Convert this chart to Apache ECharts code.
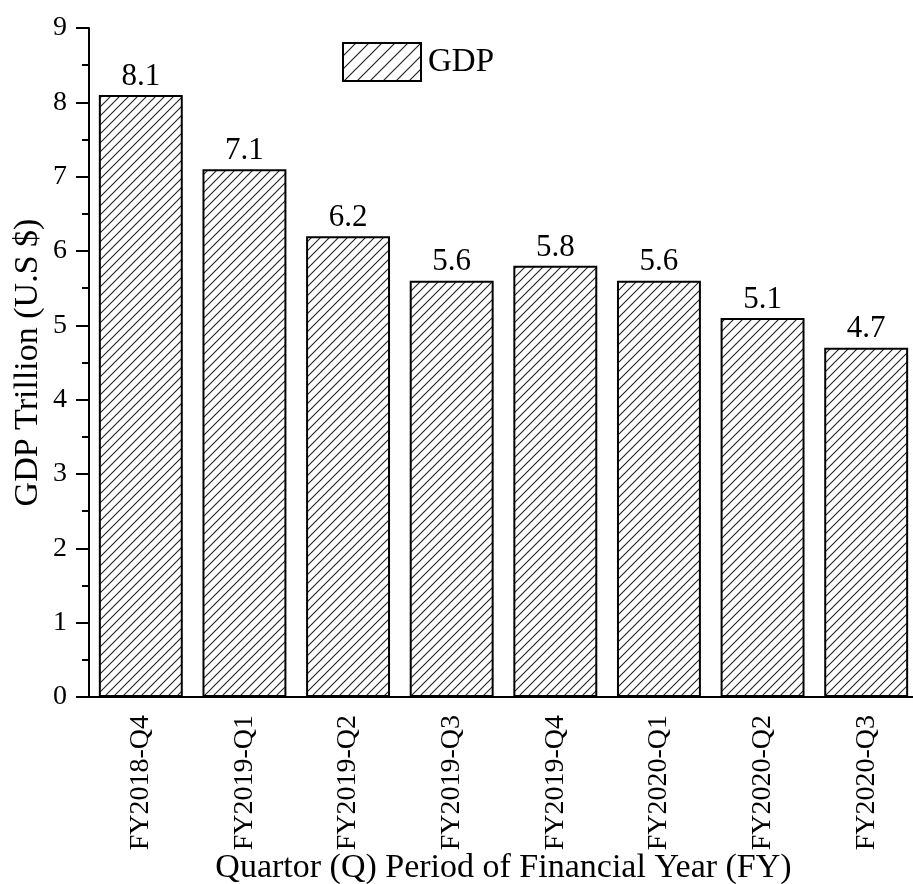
<!DOCTYPE html>
<html>
<head>
<meta charset="utf-8">
<script src="https://cdn.jsdelivr.net/npm/echarts@6/dist/echarts.min.js"></script>
<style>html,body{margin:0;padding:0;background:#fff}#c{width:913px;height:884px}</style>
</head>
<body>
<div id="c"></div>
<script>
const categories = ['FY2018-Q4','FY2019-Q1','FY2019-Q2','FY2019-Q3','FY2019-Q4','FY2020-Q1','FY2020-Q2','FY2020-Q3'];
const gdpValues = [8.1, 7.1, 6.2, 5.6, 5.8, 5.6, 5.1, 4.7];
const yTicks = [0,1,2,3,4,5,6,7,8,9];

function hatch(s, lw, col) {
  const c = document.createElement('canvas');
  c.width = s; c.height = s;
  const g = c.getContext('2d');
  g.fillStyle = '#fff'; g.fillRect(0,0,s,s);
  g.strokeStyle = col; g.lineWidth = lw;
  g.beginPath();
  g.moveTo(0, s); g.lineTo(s, 0);
  g.moveTo(-s, s); g.lineTo(s, -s);
  g.moveTo(0, 2*s); g.lineTo(2*s, 0);
  g.stroke();
  return c;
}
const font = '"Liberation Serif", "Times New Roman", serif';
const chart = echarts.init(document.getElementById('c'));
chart.setOption({
  animation: false,
  backgroundColor: '#fff',
  grid: { left: 89, top: 28, width: 829, height: 669, outerBoundsMode: 'none', containLabel: false },
  legend: {
    left: 342, top: 42, padding: 0, itemWidth: 78, itemHeight: 38, itemGap: 10,
    icon: 'rect',
    textStyle: { fontFamily: font, fontSize: 33, color: '#000', padding: [0, 0, 0, 2] },
    data: [{ name: 'GDP', itemStyle: { color: { image: hatch(13, 1.2, '#222'), repeat: 'repeat' }, borderColor: '#000', borderWidth: 2 } }]
  },
  xAxis: {
    type: 'category', data: categories,
    axisLine: { lineStyle: { color: '#000', width: 2 } },
    axisTick: { alignWithLabel: true, length: 9, lineStyle: { color: '#000', width: 2 } },
    axisLabel: { rotate: 90, margin: 18, fontFamily: font, fontSize: 28, color: '#000' },
    name: 'Quartor (Q) Period of Financial Year (FY)', nameLocation: 'middle', nameGap: 154, nameMoveOverlap: false,
    nameTextStyle: { fontFamily: font, fontSize: 34, color: '#000' }
  },
  yAxis: {
    type: 'value', min: yTicks[0], max: yTicks[yTicks.length-1], interval: 1,
    axisLine: { show: true, lineStyle: { color: '#000', width: 2 } },
    axisTick: { show: true, length: 13, lineStyle: { color: '#000', width: 2 } },
    minorTick: { show: true, splitNumber: 2, length: 7, lineStyle: { color: '#000', width: 2 } },
    splitLine: { show: false },
    axisLabel: { margin: 22, fontFamily: font, fontSize: 28, color: '#000' },
    name: 'GDP Trillion (U.S $)', nameLocation: 'middle', nameGap: 44, nameMoveOverlap: false,
    nameTextStyle: { fontFamily: font, fontSize: 34, color: '#000' }
  },
  series: [{
    name: 'GDP', type: 'bar', data: gdpValues, barCategoryGap: '19%',
    itemStyle: { color: { image: hatch(9, 1.1, '#222'), repeat: 'repeat' }, borderColor: '#000', borderWidth: 2 },
    label: { show: true, position: 'top', distance: 3, fontFamily: font, fontSize: 31, color: '#000' }
  }]
});
</script>
</body>
</html>
